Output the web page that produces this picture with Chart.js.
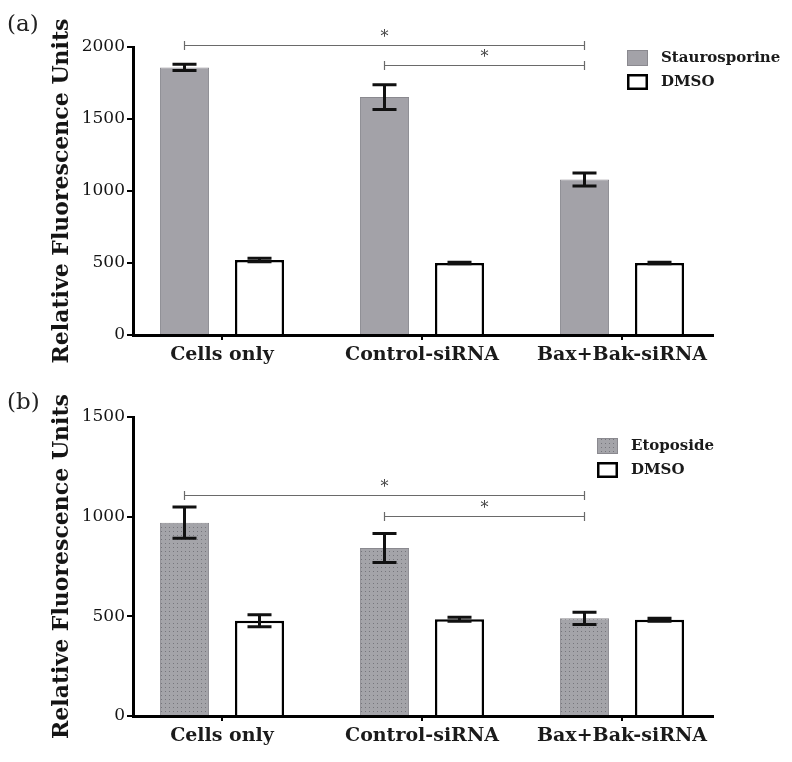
<!DOCTYPE html>
<html><head><meta charset="utf-8">
<script src="https://cdn.jsdelivr.net/npm/chart.js@4.4.1/dist/chart.umd.min.js"></script>
<style>
html,body{margin:0;padding:0;background:#fff;}
.wrap{position:absolute;left:0;width:792px;}
</style></head><body>
<div class="wrap" style="top:0;height:370px"><canvas id="ca"></canvas></div>
<div class="wrap" style="top:370px;height:392px"><canvas id="cb"></canvas></div>
<script>
// ---- data ----
const categories = ['Cells only', 'Control-siRNA', 'Bax+Bak-siRNA'];
const staurosporine = [1858, 1652, 1080];
const staurosporineErr = [22, 86, 45];
const dmsoA = [521, 500, 500];
const dmsoAErr = [12, 6, 6];
const etoposide = [970, 843, 490];
const etoposideErr = [78, 73, 31];
const dmsoB = [478, 485, 483];
const dmsoBErr = [30, 10, 8];
const yTicksA = [0, 500, 1000, 1500, 2000];
const yTicksB = [0, 500, 1000, 1500];
const sigA = [{from: 0, to: 2, level: 2014}, {from: 1, to: 2, level: 1875}];
const sigB = [{from: 0, to: 2, level: 1109}, {from: 1, to: 2, level: 1003}];

const F = '"DejaVu Serif", "Liberation Serif", serif';

function dotPattern() {
  const c = document.createElement('canvas'); c.width = 4; c.height = 4;
  const g = c.getContext('2d');
  g.fillStyle = '#a4a4a9'; g.fillRect(0, 0, 4, 4);
  g.fillStyle = '#76767c'; g.fillRect(1, 1, 1, 1);
  return g.createPattern(c, 'repeat');
}

const annot = {
  id: 'annot',
  afterDatasetsDraw(chart, args, o) {
    const ctx = chart.ctx, y = chart.scales.y;
    ctx.save();
    // error bars
    o.errors.forEach((errs, di) => {
      const meta = chart.getDatasetMeta(di);
      const vals = chart.data.datasets[di].data;
      meta.data.forEach((bar, j) => {
        const v = vals[j].y, e = errs[j];
        const yt = y.getPixelForValue(v + e), yb = y.getPixelForValue(v - e);
        ctx.strokeStyle = '#111'; ctx.lineWidth = 3; ctx.lineCap = 'butt';
        ctx.beginPath();
        ctx.moveTo(bar.x, yt); ctx.lineTo(bar.x, yb);
        ctx.moveTo(bar.x - 12, yt); ctx.lineTo(bar.x + 12, yt);
        ctx.moveTo(bar.x - 12, yb); ctx.lineTo(bar.x + 12, yb);
        ctx.stroke();
      });
    });
    // significance brackets
    const m0 = chart.getDatasetMeta(0);
    o.brackets.forEach(b => {
      const x1 = m0.data[b.from].x, x2 = m0.data[b.to].x;
      const yy = Math.round(y.getPixelForValue(b.level)) + 0.5;
      ctx.strokeStyle = '#6a6a6a'; ctx.lineWidth = 1.2;
      ctx.beginPath();
      ctx.moveTo(x1, yy); ctx.lineTo(x2, yy);
      ctx.moveTo(x1, yy - 4.5); ctx.lineTo(x1, yy + 4.5);
      ctx.moveTo(x2, yy - 4.5); ctx.lineTo(x2, yy + 4.5);
      ctx.stroke();
      ctx.fillStyle = '#444'; ctx.font = '16px ' + F;
      ctx.textAlign = 'center'; ctx.textBaseline = 'middle';
      ctx.fillText('*', (x1 + x2) / 2, yy - 8);
    });
    // legend
    chart.data.datasets.forEach((ds, i) => {
      const cy = o.legendY + i * 24;
      const sx = o.legendX, sy = cy - 8;
      ctx.fillStyle = ds.backgroundColor;
      ctx.fillRect(sx, sy, 21, 16);
      ctx.strokeStyle = ds.borderColor; ctx.lineWidth = ds.borderWidth;
      const h = ds.borderWidth / 2;
      ctx.strokeRect(sx + h, sy + h, 21 - 2 * h, 16 - 2 * h);
      ctx.fillStyle = '#1a1a1a'; ctx.font = 'bold 15px ' + F;
      ctx.textAlign = 'left'; ctx.textBaseline = 'middle';
      ctx.fillText(ds.label, sx + 34, cy);
    });
    // panel label
    ctx.fillStyle = '#222'; ctx.font = '23px ' + F;
    ctx.textAlign = 'left'; ctx.textBaseline = 'middle';
    ctx.fillText(o.panel, 7, o.panelY);
    ctx.restore();
  }
};

function makeChart(id, label0, vals0, err0, fill0, border0, vals1, err1, yMax, yTicks, sig, panel, panelY, legendX, legendY, xh) {
  return new Chart(document.getElementById(id), {
    type: 'bar',
    data: {
      datasets: [
        {label: label0, data: vals0.map((v, i) => ({x: i, y: v})), backgroundColor: fill0,
         borderColor: border0, borderWidth: 1, categoryPercentage: 0.75, barPercentage: 0.655},
        {label: 'DMSO', data: vals1.map((v, i) => ({x: i, y: v})), backgroundColor: '#ffffff',
         borderColor: '#000000', borderWidth: 2.5, categoryPercentage: 0.75, barPercentage: 0.655}
      ]
    },
    options: {
      responsive: true, maintainAspectRatio: false, animation: false, devicePixelRatio: 1,
      layout: {padding: {top: 47, right: 79, left: 0, bottom: 0}},
      plugins: {
        legend: {display: false}, tooltip: {enabled: false},
        annot: {errors: [err0, err1], brackets: sig, panel: panel, panelY: panelY, legendX: legendX, legendY: legendY}
      },
      scales: {
        x: {
          type: 'linear', min: -0.445, max: 2.455, offset: false,
          afterBuildTicks: s => { s.ticks = categories.map((c, i) => ({value: i})); },
          afterFit: s => { s.height = xh; },
          grid: {display: true, drawOnChartArea: false, drawTicks: true, tickLength: 5, color: '#000', lineWidth: 2, offset: false},
          border: {display: true, color: '#000', width: 3},
          ticks: {callback: v => categories[v] ?? '', font: {family: F, size: 19, weight: 'bold'}, color: '#1a1a1a',
                  padding: 4, maxRotation: 0, autoSkip: false}
        },
        y: {
          min: 0, max: yMax,
          afterBuildTicks: s => { s.ticks = yTicks.map(v => ({value: v})); },
          afterFit: s => { s.width = 133; },
          grid: {drawOnChartArea: false, drawTicks: true, tickLength: 6, color: '#000', lineWidth: 2},
          border: {display: true, color: '#000', width: 3},
          ticks: {callback: v => String(v), font: {family: F, size: 17}, color: '#151515', padding: 2},
          title: {display: true, text: 'Relative Fluorescence Units', font: {family: F, size: 22, weight: 'bold'},
                  color: '#151515', padding: {top: 49, bottom: 0}}
        }
      }
    },
    plugins: [annot]
  });
}

makeChart('ca', 'Staurosporine', staurosporine, staurosporineErr, '#a3a2a8', '#8a898f', dmsoA, dmsoAErr,
          2000, yTicksA, sigA, '(a)', 25, 627, 58, 35);
makeChart('cb', 'Etoposide', etoposide, etoposideErr, dotPattern(), '#8a898f', dmsoB, dmsoBErr,
          1500, yTicksB, sigB, '(b)', 33, 597, 76, 46);
</script>
</body></html>
